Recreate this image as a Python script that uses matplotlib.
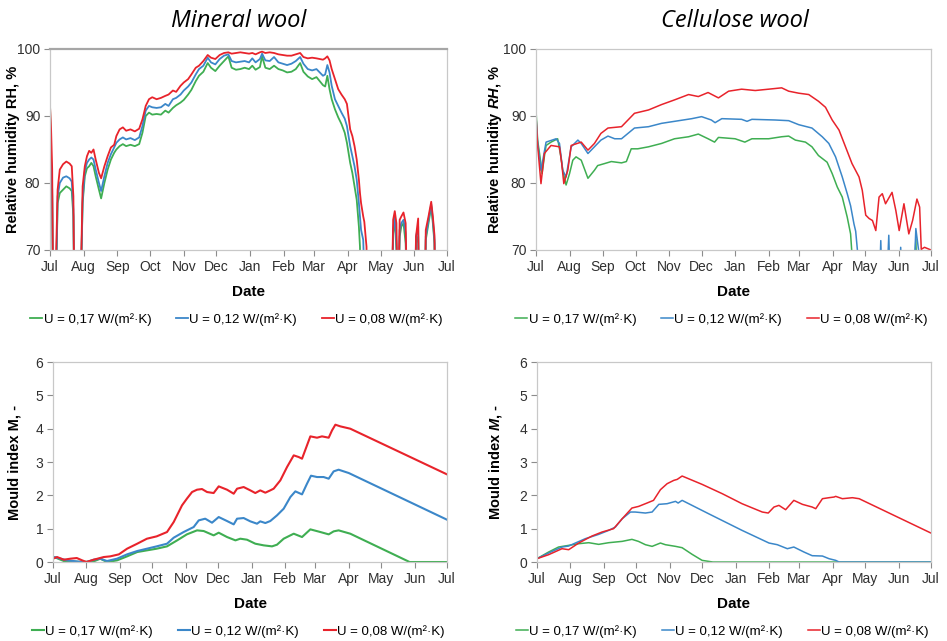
import numpy as np
import matplotlib
matplotlib.use("Agg")
from matplotlib import pyplot as plt

plt.rcParams['font.family'] = ['Liberation Sans', 'DejaVu Sans']
plt.rcParams['mathtext.fontset'] = 'custom'
plt.rcParams['mathtext.rm'] = 'Liberation Sans'
plt.rcParams['mathtext.bf'] = 'Liberation Sans:bold'
plt.rcParams['mathtext.bfit'] = 'Liberation Sans:bold:italic'

# x axis = days after 1 July
month_days = [0, 31, 62, 92, 123, 153, 184, 215, 243, 274, 304, 335, 365]
month_names = ["Jul", "Aug", "Sep", "Oct", "Nov", "Dec", "Jan", "Feb", "Mar", "Apr", "May", "Jun", "Jul"]
labels = ["U = 0,17 W/(m²·K)", "U = 0,12 W/(m²·K)", "U = 0,08 W/(m²·K)"]
colors = ["#3fae52", "#3b87c9", "#e8232b"]

# --- relative humidity, mineral wool (values under 70 fall out of the axis)
rh_mw_days = [0, 1, 2, 3, 5, 7, 9, 12, 15, 18, 20, 21.5, 22.5, 27, 28.5, 30, 32, 34, 36, 38,
              40, 42, 45, 47, 50, 53, 56, 59, 61, 64, 67, 70, 74, 78, 82, 85, 88, 91, 94, 98,
              102, 106, 109, 113, 116, 120, 123, 127, 130, 134, 137, 141, 145, 148, 152, 156, 160, 164, 167, 171,
              175, 179, 183, 186, 189, 193, 195, 198, 202, 206, 210, 214, 218, 222, 226, 230, 233, 237, 241, 245,
              248, 251, 253, 255, 257, 259, 262, 265, 268, 271, 273, 276, 278, 280, 282, 284, 285, 286, 288, 289,
              291, 292, 314, 315.5, 317, 318.5, 320, 321.5, 323, 325, 327, 328.5, 335.5, 336.5, 338.5, 339.5, 344.5, 345.5,
              348, 350.5, 352, 353.5, 354.5, 365]
rh_mw_017 = [92, 84, 78, 60, 60, 77, 78.5, 79, 79.5, 79.2, 78.8, 75, 60, 60, 66, 77, 81, 82.2, 82.5, 83,
             82.5, 81, 79, 77.7, 80, 82, 83.5, 84.5, 85, 85.5, 85.8, 85.5, 85.7, 85.5, 85.8, 87.5, 90, 90.5, 90.2, 90.3,
             90.2, 90.8, 90.5, 91.2, 91.6, 92, 92.4, 93.2, 93.9, 95.2, 96, 96.6, 97.9, 97.2, 96.7, 97.5, 98.2, 98.9, 97.2, 96.9,
             97, 97.2, 97, 97.5, 96.9, 97.3, 98.9, 97.2, 97, 97.5, 97, 96.8, 96.5, 96.6, 97, 97.9, 96.6, 95.9, 95.5, 95.8,
             95.2, 94.6, 94.4, 96, 94, 92.5, 91, 89.8, 88.8, 87.5, 86, 83, 81.5, 79.5, 77.5, 73.5, 70.5, 60, 60, 60,
             60, 60, 60, 72.5, 74.5, 70, 60, 72, 73.5, 74, 71, 60, 60, 71, 72, 60, 60, 71.5,
             74, 76.5, 74, 71, 60, 60]
rh_mw_012 = [89, 83, 79, 60, 60, 78, 80, 80.8, 81, 80.7, 80.2, 76, 60, 60, 66, 77.5, 81.8, 83, 83.5, 83.8,
             83.5, 82, 80, 78.8, 81, 83, 84.3, 85.3, 86, 86.5, 86.8, 86.5, 86.7, 86.4, 86.8, 88.5, 90.8, 91.5, 91.3, 91.2,
             91.3, 91.8, 91.5, 92.5, 92.7, 93.2, 93.8, 94.4, 95, 96.2, 97, 97.5, 98.7, 98, 97.7, 98.5, 99, 99.2, 98.2, 98,
             98.1, 98.2, 98, 98.6, 98, 98.5, 99.3, 98.3, 98.2, 98.8, 98, 97.8, 97.6, 97.8, 98.2, 98.8, 97.8, 97, 96.8, 97,
             96.5, 96, 96.2, 97.6, 96.5, 94.5, 92.5, 91.5, 90.5, 89.6, 88.5, 85.5, 84, 82.5, 80.5, 77, 75, 73, 71.5, 66,
             60, 60, 60, 73, 75, 71, 60, 73, 74, 74.5, 72.5, 60, 60, 72, 73.5, 60, 60, 72,
             74.5, 76.8, 74.5, 71.5, 60, 60]
rh_mw_008 = [91.5, 88, 82, 60, 65, 79, 82, 82.8, 83.2, 82.9, 82.5, 78, 60, 60, 67, 79.5, 82.5, 84, 84.8, 84.5,
             85, 83.5, 81.5, 80.7, 82.5, 84, 85.3, 85.7, 87, 88, 88.3, 87.8, 88, 87.7, 88.1, 89.5, 91.5, 92.5, 92.8, 92.5,
             92.7, 93, 93.2, 93.8, 93.6, 94.5, 95, 95.5, 96.2, 97.2, 97.5, 98.2, 99.1, 98.7, 98.5, 99.1, 99.4, 99.5, 99.3, 99.4,
             99.5, 99.4, 99.3, 99.4, 99.2, 99.5, 99.6, 99.4, 99.5, 99.4, 99.2, 99.1, 99, 99, 99.2, 99.4, 98.8, 98.6, 98.7, 98.6,
             98.5, 98.4, 98.6, 98.9, 98.3, 97, 95.5, 94, 93.2, 92.5, 91.8, 88, 87, 85.5, 83.5, 80.5, 78.5, 77, 75, 74.2,
             70.5, 60, 60, 74.5, 75.8, 74, 60, 74.5, 75, 75.6, 74, 60, 60, 72, 74.7, 60, 60, 73,
             75, 77.2, 75, 72.2, 60, 60]

# --- relative humidity, cellulose wool
rh_cw_days_017 = [0, 1.5, 3.7, 5.6, 7.7, 9.3, 13.9, 20, 23, 24.7, 27.8, 31, 34, 37, 41.8, 48, 54, 57, 63.4, 69.6,
                  79, 83.5, 88, 94, 104, 116, 128, 141, 150, 159, 165, 168.6, 184, 193, 199.5, 215, 227, 233.5, 239.7, 249,
                  255, 261, 269, 273.7, 278.4, 283, 287.6, 290.7, 291.7, 292.5, 348, 351, 353, 354]
rh_cw_017 = [90.9, 86.4, 83.9, 81.4, 83.9, 85.6, 86.1, 86.6, 83.9, 81.9, 79.7, 81.4, 83.4, 83.9, 83.4, 80.7, 81.9, 82.6, 82.9, 83.2,
             83, 83.2, 85.1, 85.1, 85.4, 85.9, 86.6, 86.9, 87.3, 86.6, 86.1, 86.8, 86.6, 86.1, 86.6, 86.6, 86.9, 87, 86.4, 86.1,
             85.4, 84.1, 83.1, 81.4, 79.4, 77.9, 74.9, 72.4, 70, 60, 60, 71.6, 60, 60]
rh_cw_days_012 = [0, 1.5, 4.6, 9.3, 18.6, 21.7, 24.7, 27.8, 32.5, 38.7, 41.8, 48, 54, 60, 66.5, 72.7, 79, 85, 91, 104,
                  116, 128, 144, 153, 162, 165.5, 171.7, 190, 195, 199.5, 221, 233.5, 242.8, 255, 264.5, 270.6, 276.8, 283, 287.6, 290.7,
                  293.8, 295.4, 297, 298, 316.5, 318.6, 320.5, 323, 326, 328, 335, 337, 339, 348, 351, 353.5, 355]
rh_cw_012 = [90, 86, 81.9, 86.1, 86.6, 85.9, 81.9, 80.9, 85.4, 86.4, 85.9, 84.4, 85.4, 86.4, 87, 86.6, 86.6, 87.4, 88.2, 88.4,
             88.9, 89.2, 89.6, 89.9, 89.4, 89, 89.6, 89.5, 89.2, 89.5, 89.4, 89.3, 88.7, 88.2, 86.9, 85.9, 83.9, 80.9, 78.4, 76.6,
             73.9, 72.8, 70, 60, 60, 71.4, 60, 60, 72.2, 60, 60, 70.4, 60, 60, 73.2, 70, 60]
rh_cw_days_008 = [0, 1.5, 4.6, 7.7, 13.9, 21.7, 23.8, 25.7, 29.4, 32.5, 41.8, 48, 54, 60, 66.5, 79, 85, 91, 104, 116,
                  128, 141, 150, 159, 168.6, 178, 190, 202.6, 215, 227, 233.5, 242.8, 252, 261, 267.5, 273.7, 280, 286, 292, 298.5,
                  301.5, 304.7, 307.8, 310.9, 314, 317, 320, 323, 329, 332.5, 335.6, 340, 342, 344.5, 348, 352, 354.5, 356,
                  359, 362, 365]
rh_cw_008 = [90, 85.6, 79.9, 84.4, 85.6, 85.4, 82.9, 79.9, 81.9, 85.6, 86.1, 84.9, 85.9, 87.4, 88.2, 88.4, 89.4, 90.4, 90.9, 91.7,
             92.4, 93.2, 92.9, 93.5, 92.7, 93.7, 94, 93.8, 94, 94.2, 93.7, 93.4, 93.2, 92.2, 91.3, 89.4, 87.9, 85.4, 82.9, 80.9,
             78.9, 75.2, 74.7, 74.4, 72.9, 77.9, 78.4, 76.9, 78.6, 75.9, 72.9, 76.9, 74.9, 72.4, 74.4, 77.6, 76.4, 70.1,
             70.4, 70.2, 70]

# --- mould index, mineral wool
m_mw_days_017 = [0, 1, 10, 27, 37.7, 43.8, 50, 59.3, 68.6, 78, 87, 96, 105.6, 115, 124, 133.4, 139.6, 148.8, 153.5, 161.2,
                 169, 173.5, 179.7, 187.4, 195.2, 202.9, 207.5, 213.7, 223, 230.7, 238.4, 247.7, 255.4, 260, 264.6, 275.4, 330.4, 365]
m_mw_017 = [0.12, 0.15, 0.03, 0, 0.02, 0.1, 0, 0.05, 0.17, 0.3, 0.35, 0.4, 0.47, 0.65, 0.83, 0.95, 0.93, 0.8, 0.88, 0.75,
            0.65, 0.7, 0.67, 0.55, 0.5, 0.47, 0.52, 0.7, 0.85, 0.75, 0.98, 0.9, 0.83, 0.92, 0.95, 0.85, 0, 0]
m_mw_days_012 = [0, 1, 13, 27, 31, 37.7, 43.8, 50, 59.3, 68.6, 78, 87, 96, 105.6, 111.8, 121, 130.3, 135, 141, 147.3,
                 153.5, 161.2, 167.4, 170.5, 176.6, 182.8, 189, 192, 196.7, 201.3, 207.5, 213.7, 219.9, 224.5, 230.7, 235.3, 239, 244.6,
                 250.7, 255.4, 260, 264.6, 274, 365]
m_mw_012 = [0.12, 0.15, 0.05, 0, 0, 0.07, 0.1, 0.03, 0.1, 0.23, 0.33, 0.4, 0.47, 0.55, 0.73, 0.9, 1.05, 1.25, 1.3, 1.18,
            1.35, 1.23, 1.13, 1.3, 1.32, 1.22, 1.15, 1.22, 1.17, 1.23, 1.4, 1.6, 1.95, 2.12, 2.03, 2.35, 2.59, 2.55,
            2.55, 2.5, 2.72, 2.77, 2.67, 1.27]
m_mw_days_008 = [0, 3.7, 10, 16, 22, 27, 31, 37.7, 47, 53, 61, 68.6, 78, 87, 96, 105.6, 111.8, 119.5, 124, 128.8,
                 133.4, 138, 142.7, 148.8, 153.5, 161.2, 167.4, 170.5, 176.6, 182.8, 187.4, 192, 196.7, 201.3, 204.4, 210.6, 216.8, 223,
                 227.6, 230.7, 235.3, 238.4, 244.6, 249.2, 255.4, 258.5, 261.6, 266.2, 275.4, 365]
m_mw_008 = [0.1, 0.15, 0.07, 0.1, 0.12, 0.05, 0, 0.07, 0.15, 0.17, 0.23, 0.4, 0.55, 0.7, 0.77, 0.9, 1.2, 1.7, 1.9, 2.1,
            2.17, 2.19, 2.1, 2.07, 2.27, 2.17, 2.05, 2.2, 2.25, 2.15, 2.07, 2.15, 2.08, 2.15, 2.2, 2.45, 2.85, 3.2,
            3.15, 3.1, 3.5, 3.77, 3.73, 3.77, 3.73, 3.95, 4.12, 4.07, 4.0, 2.63]

# --- mould index, cellulose wool
m_cw_days_017 = [0, 10.8, 20, 29.4, 38.7, 48, 57.2, 66.5, 79, 88, 94, 100.5, 106.7, 114.4, 119, 128.4, 134.5, 143.8, 153, 163, 365]
m_cw_017 = [0.1, 0.3, 0.45, 0.5, 0.55, 0.58, 0.53, 0.58, 0.62, 0.68, 0.62, 0.52, 0.47, 0.57, 0.52, 0.47, 0.43, 0.23, 0.05, 0, 0]
m_cw_days_012 = [0, 10.8, 23.2, 29.4, 35.6, 44.8, 57.2, 66.5, 72.7, 79, 86.6, 91, 100.5, 106.7, 112.9, 120.6, 128.4, 130.8, 134.5, 159,
                 190, 215, 222.7, 232, 238, 247.4, 255, 264.5, 270.6, 276.8, 280, 365]
m_cw_012 = [0.1, 0.27, 0.45, 0.48, 0.57, 0.7, 0.83, 0.95, 1.05, 1.3, 1.5, 1.5, 1.47, 1.5, 1.73, 1.75, 1.82, 1.77, 1.85, 1.45,
            0.95, 0.57, 0.52, 0.4, 0.45, 0.3, 0.19, 0.18, 0.1, 0.05, 0, 0]
m_cw_days_008 = [0, 10.8, 23.2, 29.4, 38.7, 51, 60.3, 71, 79, 88, 94.3, 102, 108, 114.4, 120.6, 126.8, 130, 134.5, 153, 171.7,
                 190, 208.8, 214.3, 219.6, 224.2, 230.4, 238, 246, 255, 258.3, 264.5, 270.6, 275.3, 276.8, 283, 292.3, 298.5, 365]
m_cw_008 = [0.1, 0.22, 0.4, 0.37, 0.57, 0.78, 0.9, 1.0, 1.3, 1.62, 1.67, 1.77, 1.85, 2.17, 2.35, 2.45, 2.48, 2.58, 2.33, 2.05,
            1.75, 1.5, 1.47, 1.65, 1.7, 1.57, 1.85, 1.73, 1.65, 1.6, 1.9, 1.93, 1.95, 1.97, 1.9, 1.93, 1.9, 0.87]


def style_axes(ax, ylim, yticks, ylabel, label_x):
    ax.set_xlim(0, 365)
    ax.set_ylim(*ylim)
    ax.set_xticks(month_days)
    ax.set_xticklabels(month_names)
    ax.set_yticks(yticks)
    ax.tick_params(axis='both', labelsize=10, colors='#8c8c8c', labelcolor='#303030',
                   length=4, width=0.8, direction='out', pad=3)
    for s in ax.spines.values():
        s.set_color('#c8c8c8')
        s.set_linewidth(0.9)
    ax.set_xlabel("Date", fontsize=11, fontweight='bold', labelpad=8)
    ax.set_ylabel(ylabel, fontsize=10.5, fontweight='bold')
    ax.yaxis.set_label_coords(label_x, 0.5)


def add_legend(ax, handles):
    ax.legend(handles, labels, loc='upper center', bbox_to_anchor=(0.47, -0.255), ncol=3,
              frameon=False, fontsize=9.5, handlelength=0.9, handletextpad=0.1,
              columnspacing=1.9)


fig = plt.figure(figsize=(9.47, 6.41), dpi=100)
ax1 = fig.add_axes([0.0528, 0.610, 0.4192, 0.3136])
ax2 = fig.add_axes([0.566, 0.610, 0.4171, 0.3136])
ax3 = fig.add_axes([0.056, 0.1232, 0.416, 0.312])
ax4 = fig.add_axes([0.567, 0.1232, 0.416, 0.312])

# mineral wool RH
h = []
for vals, c in zip([rh_mw_017, rh_mw_012, rh_mw_008], colors):
    h.append(ax1.plot(rh_mw_days, vals, color=c, lw=1.3)[0])
style_axes(ax1, (70, 100), [70, 80, 90, 100], "Relative humidity RH, %", -0.075)
ax1.spines['top'].set_color('#a6a6a6')
ax1.spines['top'].set_linewidth(1.6)
add_legend(ax1, h)

# cellulose wool RH
h = []
for d, vals, c in zip([rh_cw_days_017, rh_cw_days_012, rh_cw_days_008],
                      [rh_cw_017, rh_cw_012, rh_cw_008], colors):
    h.append(ax2.plot(d, vals, color=c, lw=1.1)[0])
style_axes(ax2, (70, 100), [70, 80, 90, 100], "Relative humidity $\\mathbfit{RH}$, %", -0.081)
add_legend(ax2, h)

# mineral wool mould index
h = []
for d, vals, c in zip([m_mw_days_017, m_mw_days_012, m_mw_days_008],
                      [m_mw_017, m_mw_012, m_mw_008], colors):
    h.append(ax3.plot(d, vals, color=c, lw=1.5)[0])
style_axes(ax3, (0, 6), range(0, 7), "Mould index M, -", -0.079)
add_legend(ax3, h)

# cellulose wool mould index
h = []
for d, vals, c in zip([m_cw_days_017, m_cw_days_012, m_cw_days_008],
                      [m_cw_017, m_cw_012, m_cw_008], colors):
    h.append(ax4.plot(d, vals, color=c, lw=1.1)[0])
style_axes(ax4, (0, 6), range(0, 7), "Mould index $\\mathbfit{M}$, -", -0.084)
add_legend(ax4, h)

fig.text(0.252, 0.968, "Mineral wool", fontsize=17, style='italic',
         family=['Open Sans', 'DejaVu Sans'], ha='center', va='center')
fig.text(0.776, 0.968, "Cellulose wool", fontsize=17, style='italic',
         family=['Open Sans', 'DejaVu Sans'], ha='center', va='center')

fig.savefig("out.png", dpi=100)
